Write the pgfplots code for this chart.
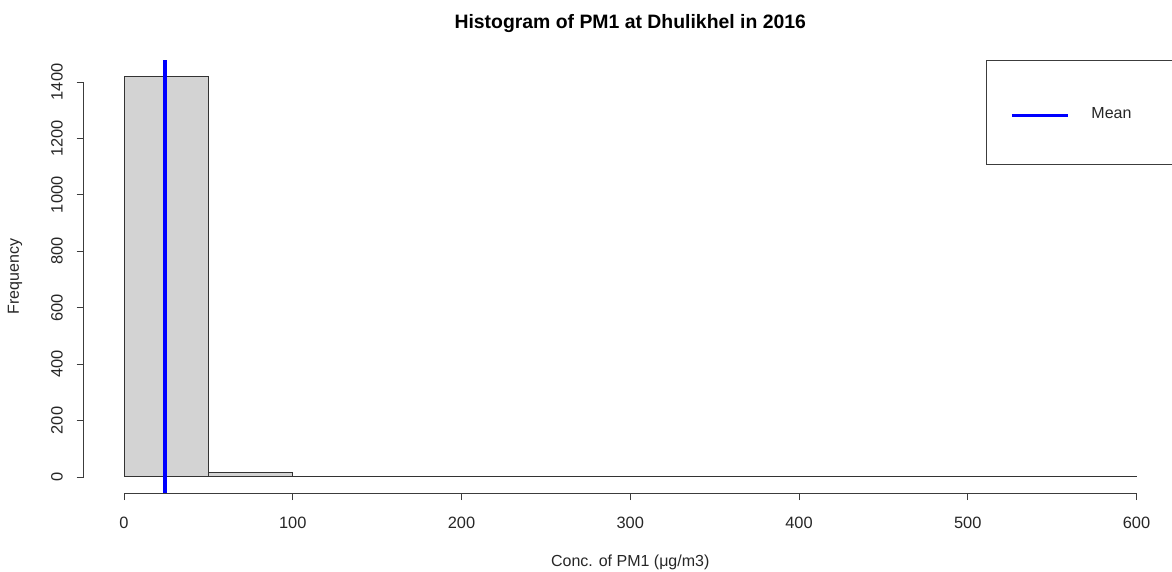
\documentclass[border=0pt]{standalone}
\usepackage{fontspec}
\setmainfont{Liberation Sans}
\usepackage{pgfplots}
\pgfplotsset{compat=1.18}
\definecolor{barfill}{RGB}{211,211,211}
\definecolor{axcol}{RGB}{60,60,60}
\begin{document}
\begin{tikzpicture}
\useasboundingbox (0,0) rectangle (586pt,-286pt);
\begin{axis}[
  at={(41.75pt,-246.5pt)}, anchor=south west,
  scale only axis, width=546.75pt, height=216.5pt,
  xmin=-24, xmax=624, ymin=-56.84, ymax=1477.8,
  axis x line*=bottom, axis y line*=left,
  axis line style={draw=none},
  clip=false,
  xtick={0,100,...,600}, ytick={0,200,...,1400},
  tick align=outside, major tick length=3.5pt,
  tick style={axcol, line width=0.45pt},
  /pgf/number format/assume math mode=true,
  /pgf/number format/1000 sep={},
  ticklabel style={font=\fontsize{8.2}{10}\selectfont, text=black!85},
  xticklabel style={anchor=center, yshift=-11.5pt},
  yticklabel style={anchor=center, xshift=-9.75pt, rotate=90},
  xlabel={Conc. of PM1 (μg/m3)},
  ylabel={Frequency},
  xlabel style={at={(rel axis cs:0.5,-0.1594)}, anchor=center, font=\fontsize{8}{10}\selectfont, text=black!85},
  ylabel style={at={(rel axis cs:-0.0626,0.5)}, anchor=center, rotate=0, font=\fontsize{8}{10}\selectfont, text=black!85},
  title={Histogram of PM1 at Dhulikhel in 2016},
  title style={at={(rel axis cs:0.5,1.0555)}, anchor=center, font=\fontsize{9.7}{12}\selectfont\bfseries},
  legend style={at={(rel axis cs:1,1)}, anchor=north east, draw=axcol, line width=0.5pt,
    inner xsep=12pt, inner ysep=23pt,
    nodes={inner sep=0pt, text height=6pt, text depth=0pt, font=\fontsize{8}{10}\selectfont, text=black!85}},
  legend image code/.code={\draw[#1] (0pt,-1.5pt) -- (28pt,-1.5pt);},
]
\addplot[ybar interval, fill=barfill, draw=black!80, line width=0.5pt, forget plot]
  coordinates {(0,1421) (50,16) (100,0) (150,0) (200,0) (250,0) (300,0) (350,1) (400,0) (450,0) (500,0) (550,1) (600,0)};
\addplot[blue, line width=1.6pt] coordinates {(24.3,-56.84) (24.3,1477.8)};
\addlegendentry{\hspace{11pt}Mean\hspace{10.5pt}\mbox{}}
\draw[axcol, line width=0.45pt] (axis cs:0,-56.84) -- (axis cs:600,-56.84);
\draw[axcol, line width=0.45pt] (axis cs:-24,0) -- (axis cs:-24,1400);
\end{axis}
\end{tikzpicture}
\end{document}
